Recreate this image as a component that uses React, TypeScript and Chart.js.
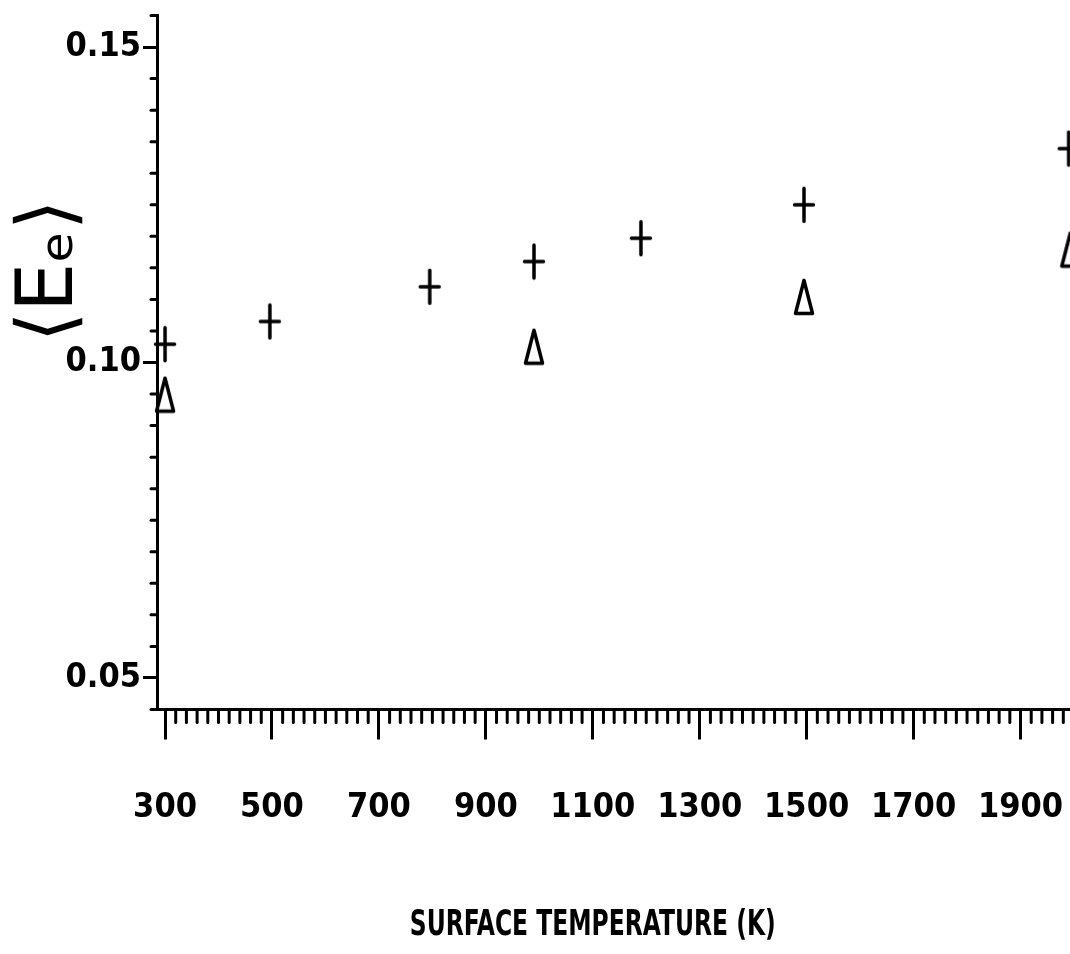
import React, { useEffect, useRef } from 'react';
import { Chart, registerables } from 'chart.js';

Chart.register(...registerables);

// ---- data ----
const plusTemps = [300, 496, 795, 990, 1190, 1495, 1990];
const plusValues = [0.1029, 0.1065, 0.112, 0.116, 0.1197, 0.125, 0.1339];
const triTemps = [300, 990, 1495, 1993];
const triValues = [0.0949, 0.1025, 0.1104, 0.1179];

const xTickValues = [300, 500, 700, 900, 1100, 1300, 1500, 1700, 1900];
const yTickValues = [0.05, 0.1, 0.15];

const X_MIN = 285;
const X_MAX = 2000;
const Y_MIN = 0.045;
const Y_MAX = 0.155;
const X_MINOR_STEP = 20;
const Y_MINOR_STEP = 0.005;

const xTitle = 'SURFACE TEMPERATURE (K)';
const yTitle = '⟨Eₑ⟩';

const CANVAS_W = 1090;
const CANVAS_H = 954;

const TICK_FONT = {
  family: "'Liberation Sans Narrow', 'DejaVu Sans Condensed', sans-serif",
  size: 34,
  weight: 'bold' as const,
};

function makePlus(): HTMLCanvasElement {
  const c = document.createElement('canvas');
  c.width = 24;
  c.height = 38;
  const g = c.getContext('2d')!;
  g.strokeStyle = '#000';
  g.lineWidth = 3.5;
  g.lineCap = 'round';
  g.beginPath();
  g.moveTo(12, 2.5);
  g.lineTo(12, 35.5);
  g.moveTo(2.5, 19);
  g.lineTo(21.5, 19);
  g.stroke();
  return c;
}

function makeTriangle(): HTMLCanvasElement {
  const c = document.createElement('canvas');
  c.width = 22;
  c.height = 38;
  const g = c.getContext('2d')!;
  g.strokeStyle = '#000';
  g.lineWidth = 3.5;
  g.lineJoin = 'round';
  g.beginPath();
  g.moveTo(11, 2.5);
  g.lineTo(19.5, 35.5);
  g.lineTo(2.5, 35.5);
  g.closePath();
  g.stroke();
  return c;
}

const axisDecor = {
  id: 'axisDecor',
  afterDraw(chart: any) {
    const { ctx, chartArea, scales } = chart;
    const xs = scales.x;
    const ys = scales.y;
    ctx.save();
    ctx.strokeStyle = '#000';
    ctx.lineWidth = 3;
    ctx.lineCap = 'round';
    // minor x ticks
    for (let v = xTickValues[0]; v <= X_MAX; v += X_MINOR_STEP) {
      if ((v - xTickValues[0]) % 200 === 0) continue;
      const px = xs.getPixelForValue(v);
      ctx.beginPath();
      ctx.moveTo(px, chartArea.bottom);
      ctx.lineTo(px, chartArea.bottom + 13);
      ctx.stroke();
    }
    // minor y ticks
    const kStart = Math.round(Y_MIN / Y_MINOR_STEP);
    const kEnd = Math.round(Y_MAX / Y_MINOR_STEP);
    for (let k = kStart; k <= kEnd; k++) {
      if (k % 10 === 0) continue;
      const py = ys.getPixelForValue(k * Y_MINOR_STEP);
      ctx.beginPath();
      ctx.moveTo(chartArea.left, py);
      ctx.lineTo(chartArea.left - 6, py);
      ctx.stroke();
    }
    ctx.restore();

    // x axis title (plotter-like narrow lettering)
    ctx.save();
    ctx.fillStyle = '#000';
    ctx.font = "bold 36px 'DejaVu Sans Condensed', sans-serif";
    ctx.textAlign = 'center';
    ctx.textBaseline = 'alphabetic';
    const w = ctx.measureText(xTitle).width;
    const sx = 366 / w;
    const cx = xs.getPixelForValue(1100);
    ctx.translate(cx, chart.height - 19);
    ctx.scale(sx, 1);
    ctx.fillText(xTitle, 0, 0);
    ctx.restore();

    // y axis title
    ctx.save();
    ctx.fillStyle = '#000';
    ctx.font = "78px 'DejaVu Sans', sans-serif";
    ctx.textAlign = 'center';
    ctx.textBaseline = 'alphabetic';
    ctx.translate(72, 271);
    ctx.rotate(-Math.PI / 2);
    ctx.fillText(yTitle, 0, 0);
    ctx.restore();
  },
};

export default function App() {
  const ref = useRef<HTMLCanvasElement | null>(null);

  useEffect(() => {
    if (!ref.current) return;
    const plusImg = makePlus();
    const triImg = makeTriangle();
    const chart = new Chart(ref.current, {
      type: 'scatter',
      data: {
        datasets: [
          {
            label: 'plus',
            data: plusTemps.map((x, i) => ({ x, y: plusValues[i] })),
            pointStyle: plusImg as any,
            pointRadius: 12,
            clip: false as any,
            showLine: false,
          },
          {
            label: 'triangle',
            data: triTemps.map((x, i) => ({ x, y: triValues[i] })),
            pointStyle: triImg as any,
            pointRadius: 12,
            clip: false as any,
            showLine: false,
          },
        ],
      },
      options: {
        responsive: false,
        animation: false,
        devicePixelRatio: 1,
        layout: { padding: { top: 15.5, right: CANVAS_W - 1074, bottom: 0, left: 0 } },
        plugins: {
          legend: { display: false },
          tooltip: { enabled: false },
          title: { display: false },
        },
        scales: {
          x: {
            type: 'linear',
            min: X_MIN,
            max: X_MAX,
            afterBuildTicks: (s: any) => {
              s.ticks = xTickValues.map((v) => ({ value: v }));
            },
            afterFit: (s: any) => {
              s.height = CANVAS_H - 709.5;
              s.paddingLeft = 0;
              s.paddingRight = 0;
            },
            grid: {
              display: true,
              drawOnChartArea: false,
              drawTicks: true,
              tickLength: 30,
              lineWidth: 3,
              color: '#000',
            },
            border: { display: true, color: '#000', width: 3 },
            ticks: {
              color: '#000',
              font: TICK_FONT,
              padding: 48,
              maxRotation: 0,
              autoSkip: false,
              callback: (v: any) => String(v),
            },
          },
          y: {
            type: 'linear',
            min: Y_MIN,
            max: Y_MAX,
            afterBuildTicks: (s: any) => {
              s.ticks = yTickValues.map((v) => ({ value: v }));
            },
            afterFit: (s: any) => {
              s.width = 157;
              s.paddingTop = 0;
              s.paddingBottom = 0;
            },
            grid: {
              display: true,
              drawOnChartArea: false,
              drawTicks: true,
              tickLength: 14,
              lineWidth: 3,
              color: '#000',
            },
            border: { display: true, color: '#000', width: 3 },
            ticks: {
              color: '#000',
              font: TICK_FONT,
              padding: 2,
              autoSkip: false,
              callback: (v: any) => Number(v).toFixed(2),
            },
          },
        },
      },
      plugins: [axisDecor],
    });
    return () => chart.destroy();
  }, []);

  return (
    <div
      style={{
        position: 'fixed',
        left: 0,
        top: 0,
        width: 1070,
        height: 954,
        overflow: 'hidden',
        background: '#fff',
      }}
    >
      <canvas
        ref={ref}
        width={CANVAS_W}
        height={CANVAS_H}
        style={{ display: 'block', width: CANVAS_W, height: CANVAS_H }}
      />
    </div>
  );
}
